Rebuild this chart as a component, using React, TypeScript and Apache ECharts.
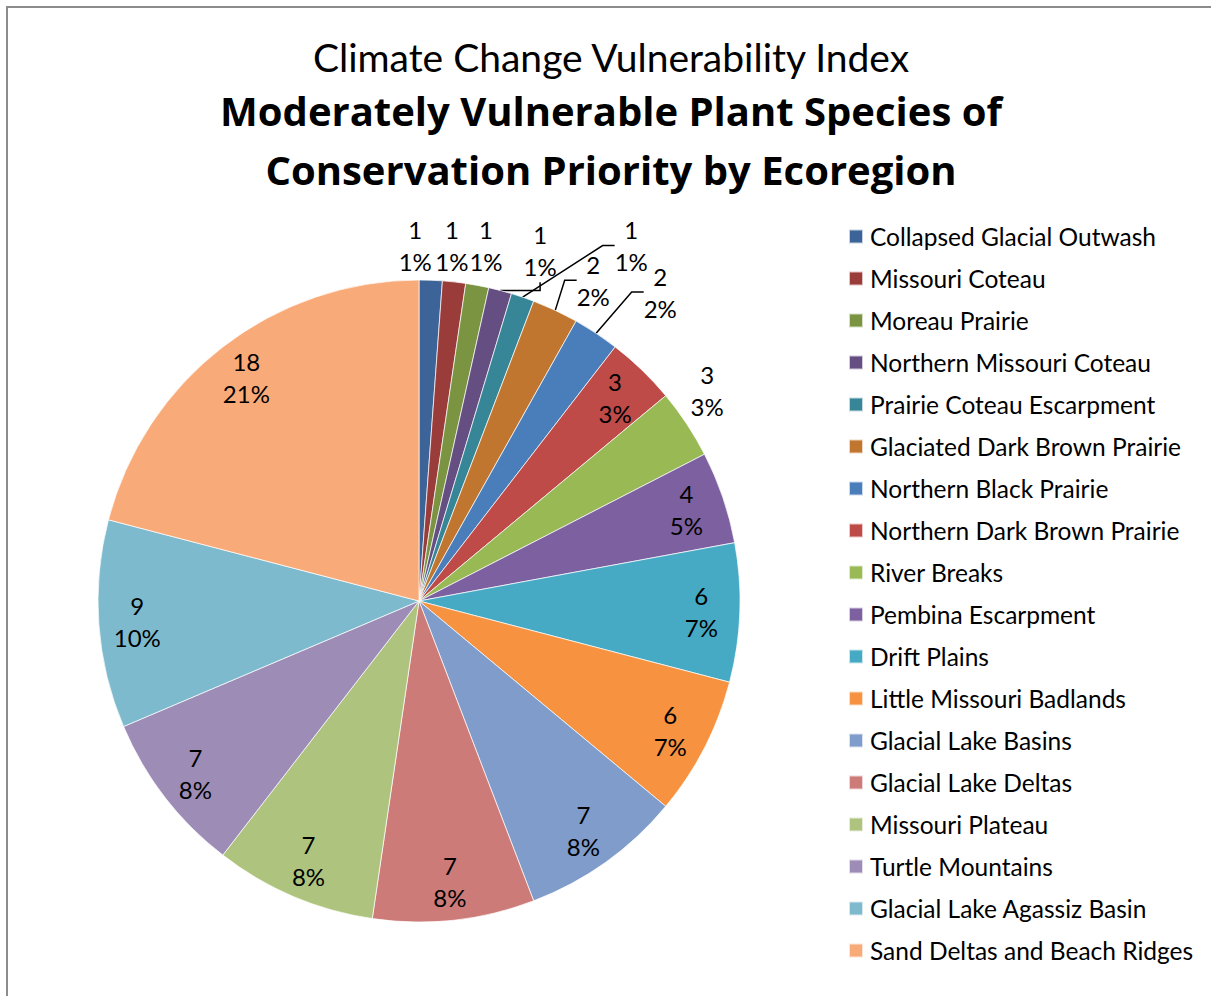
import React, { useEffect, useRef } from "react";
import * as echarts from "echarts";

const CATEGORIES = [
  "Collapsed Glacial Outwash",
  "Missouri Coteau",
  "Moreau Prairie",
  "Northern Missouri Coteau",
  "Prairie Coteau Escarpment",
  "Glaciated Dark Brown Prairie",
  "Northern Black Prairie",
  "Northern Dark Brown Prairie",
  "River Breaks",
  "Pembina Escarpment",
  "Drift Plains",
  "Little Missouri Badlands",
  "Glacial Lake Basins",
  "Glacial Lake Deltas",
  "Missouri Plateau",
  "Turtle Mountains",
  "Glacial Lake Agassiz Basin",
  "Sand Deltas and Beach Ridges",
];
const VALUES = [1, 1, 1, 1, 1, 2, 2, 3, 3, 4, 6, 6, 7, 7, 7, 7, 9, 18];
const COLORS = [
  "#3c6498", "#993c3a", "#7a9442", "#644e82", "#368698", "#c0762f",
  "#4a7ebb", "#be4b48", "#98b954", "#7d60a0", "#46aac5", "#f69240",
  "#7f9ccb", "#cd7b79", "#aec47e", "#9d8cb5", "#7ebacd", "#f9aa79",
];
const TITLE_TOP = "Climate Change Vulnerability Index";
const TITLE_MAIN = "Moderately Vulnerable Plant Species of\nConservation Priority by Ecoregion";

// ---- layout / style ----
const FONT = "Lato";
const BOLD_FONT = "Open Sans";
const CX = 419;
const CY = 601;
const R = 321;
const INNER_RATIO = 0.88;
// outer labels: [extra radial distance px, angle shift deg]
const OUTER_TWEAK: Record<number, [number, number]> = {
  0: [35, -2.7],
  1: [36, -1],
  2: [41, 0.2],
  3: [50, 4.4],
  4: [93, 12],
  5: [44, 3.4],
  6: [71, 4.5],
  8: [36, -2.7],
};
const LEADER = new Set([3, 4, 5, 6]);

export default function App() {
  const ref = useRef<HTMLDivElement>(null);
  useEffect(() => {
    if (!ref.current) return;
    const chart = echarts.init(ref.current, undefined, { renderer: "svg" });
    const total = VALUES.reduce((a, b) => a + b, 0);
    const mids: number[] = [];
    let cum = 0;
    VALUES.forEach((v) => {
      mids.push(((cum + v / 2) / total) * 360);
      cum += v;
    });
    const data = CATEGORIES.map((name, i) => ({
      name,
      value: VALUES[i],
      itemStyle: { color: COLORS[i] },
      labelLine: { show: LEADER.has(i) },
    }));
    chart.setOption({
      animation: false,
      backgroundColor: "#fff",
      graphic: [
        {
          type: "rect",
          shape: { x: 7, y: 7, width: 1400, height: 1200 },
          style: { fill: "none", stroke: "#8c8c8c", lineWidth: 2 },
          silent: true,
        },
        {
          type: "text",
          x: 611,
          y: 57,
          style: {
            text: TITLE_TOP,
            fontFamily: FONT,
            fontSize: 39,
            fontWeight: "normal",
            fill: "#000",
            align: "center",
            verticalAlign: "middle",
          },
        },
        {
          type: "text",
          x: 611,
          y: 140,
          style: {
            text: TITLE_MAIN,
            fontFamily: BOLD_FONT,
            fontSize: 40,
            fontWeight: "bold",
            lineHeight: 59,
            fill: "#000",
            align: "center",
            verticalAlign: "middle",
          },
        },
      ],
      legend: {
        orient: "vertical",
        left: 843,
        top: 219,
        height: 760,
        icon: "rect",
        itemWidth: 14,
        itemHeight: 14,
        itemGap: 17,
        data: CATEGORIES,
        textStyle: {
          fontFamily: FONT,
          fontSize: 24.5,
          lineHeight: 20,
          color: "#000",
          padding: [0, 0, 0, 2],
        },
      },
      series: [
        {
          type: "pie",
          center: [CX, CY],
          radius: R,
          startAngle: 90,
          clockwise: true,
          avoidLabelOverlap: false,
          itemStyle: { borderColor: "rgba(255,255,255,0.7)", borderWidth: 1 },
          label: {
            show: true,
            position: "outside",
            fontFamily: FONT,
            fontSize: 24,
            lineHeight: 32,
            color: "#000",
            formatter: (p: any) =>
              `${p.value}\n${Math.round((p.value / total) * 100)}%`,
          },
          labelLine: {
            show: false,
            length: 15,
            length2: 12,
            lineStyle: { color: "#000", width: 1.5 },
          },
          labelLayout: (p: any) => {
            const i = p.dataIndex;
            let d = R * INNER_RATIO;
            let a = mids[i];
            const tw = OUTER_TWEAK[i];
            if (tw) {
              d = R + tw[0];
              a = mids[i] + tw[1];
            }
            const rad = (a * Math.PI) / 180;
            return {
              x: CX + d * Math.sin(rad),
              y: CY - d * Math.cos(rad),
              align: "center",
              verticalAlign: "middle",
            };
          },
          emphasis: { disabled: true },
          data,
        },
      ],
    });
    return () => chart.dispose();
  }, []);
  return (
    <div
      ref={ref}
      style={{ position: "fixed", left: 0, top: 0, width: 1211, height: 996 }}
    />
  );
}
